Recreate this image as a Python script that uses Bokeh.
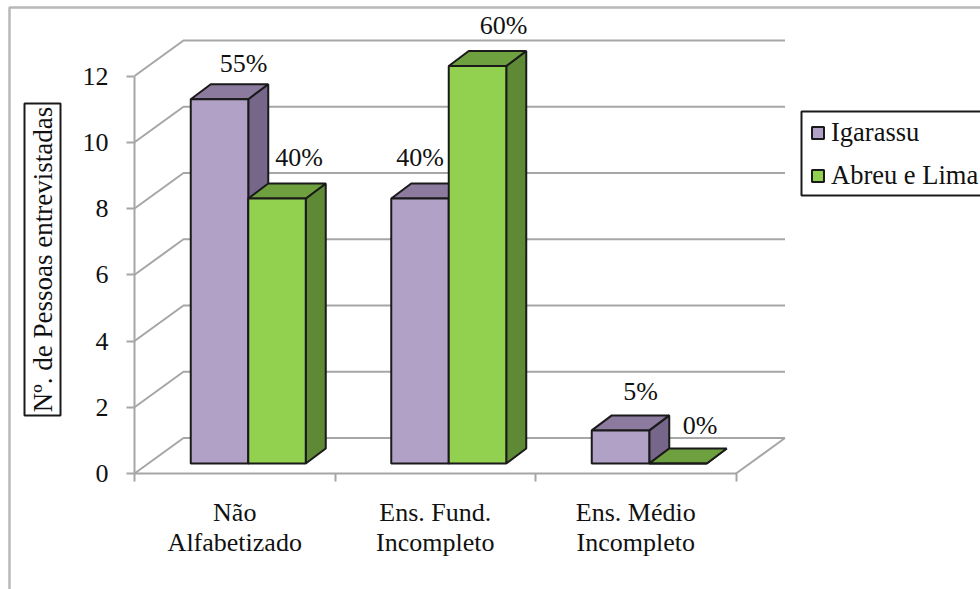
from bokeh.core.properties import value
from bokeh.embed import file_html
from bokeh.models import (BoxAnnotation, ColumnDataSource, FixedTicker, Label,
                          Legend, LegendItem, Range1d)
from bokeh.plotting import figure
from bokeh.resources import INLINE

categories = ["Não\nAlfabetizado", "Ens. Fund.\nIncompleto", "Ens. Médio\nIncompleto"]
igarassu = [11, 8, 1]
abreu_lima = [8, 12, 0]
igarassu_pct = ["55%", "40%", "5%"]
abreu_lima_pct = ["40%", "60%", "0%"]
y_ticks = [0, 2, 4, 6, 8, 10, 12]

FONT = "Liberation Serif"
FONT_SIZE = "26px"
AXIS_GRAY = "#a6a6a6"
EDGE = "#1a1a1a"

# Scale of the plot frame, in pixels per data unit
PX_X = 200.5
PX_Y = 33.12
WIDTH, HEIGHT = 980, 589
LEFT, BOTTOM = 134, 116   # page position of the data origin

# Oblique projection: depth of the chart box and of the bars, in data units
BOX_DX, BOX_DY = 49 / PX_X, 35.5 / PX_Y
BAR_DX, BAR_DY = 20 / PX_X, 15 / PX_Y
BAR_W = 57.5 / PX_X
BAR_BASE_DX, BAR_BASE_DY = 13.5 / PX_X, 10 / PX_Y

p = figure(width=WIDTH, height=HEIGHT, output_backend="svg", toolbar_location=None,
           min_border=0,
           x_range=Range1d(-LEFT / PX_X, (WIDTH - LEFT) / PX_X),
           y_range=Range1d(-BOTTOM / PX_Y, (HEIGHT - BOTTOM) / PX_Y),
           outline_line_color=None)
p.grid.visible = False


def screen_box(x0, y0, x1, y1, **style):
    """Rectangle given in page pixels, y downwards; screen units here count upwards."""
    return BoxAnnotation(left=x0, right=x1, top=HEIGHT - y0, bottom=HEIGHT - y1,
                         left_units="screen", right_units="screen",
                         top_units="screen", bottom_units="screen", **style)


# Outer chart-area border, open towards the page edges
p.add_layout(screen_box(9, 7, WIDTH + 20, HEIGHT + 20, fill_alpha=0,
                        line_color="#b8b8b8", line_alpha=1, line_width=2.5))

# Wall grid lines: a diagonal on the side wall, then across the back wall
n = len(categories)
grid_xs = [[0, BOX_DX, n + BOX_DX] for _ in y_ticks]
grid_ys = [[v, v + BOX_DY, v + BOX_DY] for v in y_ticks]
p.multi_line(grid_xs, grid_ys, line_color=AXIS_GRAY, line_width=2)
p.line([n, n + BOX_DX], [0, BOX_DY], line_color=AXIS_GRAY, line_width=2)


def draw_bars(values, offset, front, top, side):
    """Draw one series as oblique boxes; returns the front-face renderer."""
    x0 = [i + 0.5 + offset + BAR_BASE_DX for i in range(n)]
    x1 = [x + BAR_W for x in x0]
    base = BAR_BASE_DY
    front_r = None
    for a, b, v in zip(x0, x1, values):
        y = v + base
        p.patch([b, b + BAR_DX, b + BAR_DX, b],
                [base, base + BAR_DY, y + BAR_DY, y],
                fill_color=side, line_color=EDGE, line_width=2)
        p.patch([a, b, b + BAR_DX, a + BAR_DX],
                [y, y, y + BAR_DY, y + BAR_DY],
                fill_color=top, line_color=EDGE, line_width=2)
        r = p.quad(left=[a], right=[b], bottom=[base], top=[y],
                   fill_color=front, line_color=EDGE, line_width=2)
        front_r = front_r or r
    return front_r


# Bars are painted group by group so nearer faces cover farther ones
purple = ("#b2a1c7", "#8c7b9e", "#75668a")
green = ("#92d050", "#6fa03f", "#5e8a35")
r_ig = draw_bars(igarassu, -BAR_W, *purple)
r_ab = draw_bars(abreu_lima, 0, *green)


# Percentage labels above each box, nudged in pixels clear of the box tops
def draw_labels(values, texts, offset, dx_px, dy_px):
    xs = [i + 0.5 + offset + BAR_BASE_DX + BAR_W / 2 + BAR_DX for i in range(n)]
    ys = [v + BAR_BASE_DY + BAR_DY for v in values]
    src = ColumnDataSource(dict(x=xs, y=ys, text=texts, dx=dx_px, dy=dy_px))
    p.text("x", "y", text="text", source=src, x_offset="dx", y_offset="dy",
           text_font=value(FONT), text_font_size=value(FONT_SIZE),
           text_color="#111111", text_align="center", text_baseline="middle")


draw_labels(igarassu, igarassu_pct, -BAR_W, [4, -20, 0], [-21, -26, -24])
draw_labels(abreu_lima, abreu_lima_pct, 0, [2, 6, 2], [-26, -26, -23])

# Front axes pinned at the data origin, limited to the extent of the chart box
xax = p.xaxis[0]
xax.fixed_location = 0
xax.bounds = (0, n)
xax.ticker = FixedTicker(ticks=[i + 0.5 for i in range(n)], minor_ticks=list(range(n + 1)))
xax.major_label_overrides = {i + 0.5: c for i, c in enumerate(categories)}
xax.major_tick_line_color = None
xax.minor_tick_out = 8
xax.minor_tick_in = 0
xax.minor_tick_line_color = AXIS_GRAY
xax.minor_tick_line_width = 2
xax.axis_line_color = AXIS_GRAY
xax.axis_line_width = 2
xax.major_label_standoff = 16
xax.major_label_text_font = FONT
xax.major_label_text_font_size = FONT_SIZE
xax.major_label_text_color = "#111111"
xax.major_label_text_line_height = 1.06

yax = p.yaxis[0]
yax.fixed_location = 0
yax.bounds = (0, 12)
yax.ticker = FixedTicker(ticks=y_ticks)
yax.minor_tick_line_color = None
yax.major_tick_out = 8
yax.major_tick_in = 0
yax.major_tick_line_color = AXIS_GRAY
yax.major_tick_line_width = 2
yax.axis_line_color = AXIS_GRAY
yax.axis_line_width = 2
yax.major_label_standoff = 18
yax.major_label_text_font = FONT
yax.major_label_text_font_size = FONT_SIZE
yax.major_label_text_color = "#111111"

# Boxed, rotated axis title
p.add_layout(screen_box(24, 103, 60, 415, fill_color="white", fill_alpha=1,
                        line_color=EDGE, line_alpha=1, line_width=2))
p.add_layout(Label(x=42, y=HEIGHT - 259, x_units="screen", y_units="screen",
                   text="Nº. de Pessoas entrevistadas", angle=90, angle_units="deg",
                   text_font=FONT, text_font_size="27px", text_color="#111111",
                   text_align="center", text_baseline="middle"))

# Legend frame runs off the page edge, so it is drawn apart from the entries
p.add_layout(screen_box(801, 111, WIDTH + 20, 195, fill_color="white", fill_alpha=1,
                        line_color=EDGE, line_alpha=1, line_width=2))
legend = Legend(items=[LegendItem(label="Igarassu", renderers=[r_ig]),
                       LegendItem(label="Abreu e Lima", renderers=[r_ab])],
                location=(810, HEIGHT - 191), orientation="vertical", margin=0, padding=6,
                spacing=12, glyph_width=15, glyph_height=15, label_standoff=6,
                label_text_font=FONT, label_text_font_size="26.5px", label_text_color="#111111",
                border_line_color=None, background_fill_alpha=0)
p.add_layout(legend)

open("out.html", "w").write(file_html(p, INLINE))
